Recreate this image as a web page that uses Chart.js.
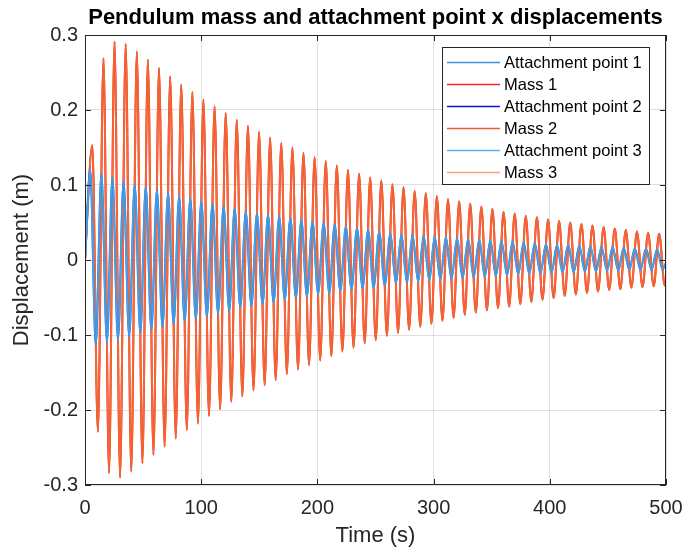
<!DOCTYPE html>
<html>
<head>
<meta charset="utf-8">
<script src="https://cdn.jsdelivr.net/npm/chart.js@4.4.1/dist/chart.umd.min.js"></script>
<style>
  html, body { margin: 0; padding: 0; background: #fff; }
  #wrap { width: 696px; height: 549px; }
</style>
</head>
<body>
<div id="wrap"><canvas id="chart"></canvas></div>
<script>
// Ticks
const xTicks = [0, 100, 200, 300, 400, 500];
const yTicks = [-0.3, -0.2, -0.1, 0, 0.1, 0.2, 0.3];

// Series labels (three identical pendulums)
const seriesLabels = ['Attachment point 1', 'Mass 1', 'Attachment point 2', 'Mass 2', 'Attachment point 3', 'Mass 3'];

// Mass displacement extrema (s, m)
const massPeakTime = [6.3, 15.9, 25.4, 35.0, 44.6, 54.1, 63.7, 73.3, 82.8, 92.4, 101.9, 111.5, 121.1, 130.6, 140.2, 149.8, 159.3, 168.9, 178.5, 188.0, 197.6, 207.2, 216.7, 226.3, 235.9, 245.4, 255.0, 264.6, 274.1, 283.7, 293.3, 302.8, 312.4, 322.0, 331.5, 341.1, 350.6, 360.2, 369.8, 379.3, 388.9, 398.5, 408.0, 417.6, 427.2, 436.7, 446.3, 455.9, 465.4, 475.0, 484.6, 494.1];
const massPeak = [0.153, 0.269, 0.291, 0.288, 0.278, 0.267, 0.256, 0.245, 0.234, 0.224, 0.214, 0.205, 0.196, 0.187, 0.179, 0.171, 0.163, 0.156, 0.150, 0.143, 0.137, 0.132, 0.126, 0.120, 0.115, 0.110, 0.106, 0.101, 0.097, 0.092, 0.089, 0.085, 0.081, 0.078, 0.075, 0.071, 0.068, 0.064, 0.062, 0.059, 0.057, 0.054, 0.052, 0.050, 0.048, 0.046, 0.044, 0.042, 0.040, 0.038, 0.036, 0.035];
const massTroughTime = [11.1, 20.7, 30.2, 39.8, 49.4, 58.9, 68.5, 78.1, 87.6, 97.2, 106.7, 116.3, 125.9, 135.4, 145.0, 154.6, 164.1, 173.7, 183.3, 192.8, 202.4, 212.0, 221.5, 231.1, 240.7, 250.2, 259.8, 269.4, 278.9, 288.5, 298.1, 307.6, 317.2, 326.8, 336.3, 345.9, 355.4, 365.0, 374.6, 384.1, 393.7, 403.3, 412.8, 422.4, 432.0, 441.5, 451.1, 460.7, 470.2, 479.8, 489.4, 498.9];
const massTrough = [-0.229, -0.284, -0.290, -0.282, -0.271, -0.260, -0.249, -0.238, -0.227, -0.218, -0.208, -0.199, -0.189, -0.182, -0.174, -0.167, -0.160, -0.152, -0.146, -0.140, -0.134, -0.128, -0.122, -0.117, -0.111, -0.107, -0.101, -0.097, -0.093, -0.089, -0.085, -0.081, -0.077, -0.073, -0.070, -0.067, -0.064, -0.062, -0.059, -0.056, -0.053, -0.051, -0.048, -0.046, -0.044, -0.042, -0.040, -0.039, -0.037, -0.036, -0.035, -0.034];
const massEnd = [500, -0.033];

// Attachment point displacement extrema
const attachPeakTime = [4.5, 14.1, 23.6, 33.2, 42.8, 52.3, 61.9, 71.5, 81.0, 90.6, 100.1, 109.7, 119.3, 128.8, 138.4, 148.0, 157.5, 167.1, 176.7, 186.2, 195.8, 205.4, 214.9, 224.5, 234.1, 243.6, 253.2, 262.8, 272.3, 281.9, 291.5, 301.0, 310.6, 320.2, 329.7, 339.3, 348.8, 358.4, 368.0, 377.5, 387.1, 396.7, 406.2, 415.8, 425.4, 434.9, 444.5, 454.1, 463.6, 473.2, 482.8, 492.3];
const attachPeak = [0.120, 0.115, 0.110, 0.105, 0.100, 0.097, 0.093, 0.089, 0.085, 0.082, 0.078, 0.075, 0.071, 0.068, 0.064, 0.062, 0.060, 0.058, 0.056, 0.053, 0.051, 0.049, 0.047, 0.044, 0.042, 0.040, 0.037, 0.035, 0.034, 0.033, 0.032, 0.031, 0.030, 0.029, 0.028, 0.027, 0.026, 0.025, 0.024, 0.023, 0.022, 0.021, 0.020, 0.020, 0.019, 0.018, 0.017, 0.017, 0.016, 0.015, 0.015, 0.014];
const attachTroughTime = [9.3, 18.9, 28.4, 38.0, 47.6, 57.1, 66.7, 76.3, 85.8, 95.4, 104.9, 114.5, 124.1, 133.6, 143.2, 152.8, 162.3, 171.9, 181.5, 191.0, 200.6, 210.2, 219.7, 229.3, 238.9, 248.4, 258.0, 267.6, 277.1, 286.7, 296.3, 305.8, 315.4, 325.0, 334.5, 344.1, 353.6, 363.2, 372.8, 382.3, 391.9, 401.5, 411.0, 420.6, 430.2, 439.7, 449.3, 458.9, 468.4, 478.0, 487.6, 497.1];
const attachTrough = [-0.113, -0.109, -0.106, -0.102, -0.098, -0.093, -0.089, -0.085, -0.081, -0.078, -0.075, -0.071, -0.068, -0.063, -0.061, -0.059, -0.056, -0.053, -0.050, -0.048, -0.045, -0.044, -0.041, -0.039, -0.037, -0.036, -0.033, -0.031, -0.030, -0.029, -0.027, -0.026, -0.025, -0.024, -0.023, -0.022, -0.021, -0.020, -0.019, -0.018, -0.018, -0.017, -0.016, -0.016, -0.015, -0.015, -0.014, -0.014, -0.013, -0.013, -0.013, -0.012];
const attachEnd = [500, -0.004];

// Merge peaks and troughs into one time-ordered list of points
function buildSeries(peakT, peakY, troughT, troughY, end) {
    const pts = [{ x: 0, y: 0 }];
    for (let i = 0; i < peakT.length; i++) {
        pts.push({ x: peakT[i], y: peakY[i] });
        pts.push({ x: troughT[i], y: troughY[i] });
    }
    pts.push({ x: end[0], y: end[1] });
    return pts;
}

const massData = buildSeries(massPeakTime, massPeak, massTroughTime, massTrough, massEnd);
const attachData = buildSeries(attachPeakTime, attachPeak, attachTroughTime, attachTrough, attachEnd);

const lineColors = ['#3c94de', '#ee4526', '#3a8ee0', '#f25a2c', 'rgba(90,175,240,0.6)', 'rgba(255,150,115,0.3)'];
const legendColors = ['#3d92d8', '#f0282a', '#1010ee', '#e8602e', '#5cb2f2', '#ffa07a'];
const lineWidths = [2, 2, 2, 2, 1.2, 1.2];
// draw order: masses underneath, attachment points on top (lower order = drawn later)
const drawOrder = [2, 5, 1, 4, 0, 3];

const datasets = seriesLabels.map((label, i) => ({
    label: label,
    data: i % 2 === 0 ? attachData : massData,
    borderColor: lineColors[i],
    borderWidth: lineWidths[i],
    pointRadius: 0,
    fill: false,
    cubicInterpolationMode: 'monotone',
    order: drawOrder[i]
}));

// MATLAB style box with inward ticks
const matlabBox = {
    id: 'matlabBox',
    afterDatasetsDraw(chart) {
        const { ctx, chartArea: a, scales: { x, y } } = chart;
        ctx.save();
        ctx.strokeStyle = '#262626';
        ctx.lineWidth = 1;
        ctx.strokeRect(a.left + 0.5, a.top + 0.5, a.right - a.left - 1, a.bottom - a.top - 1);
        ctx.beginPath();
        xTicks.forEach(v => {
            const px = Math.round(x.getPixelForValue(v)) + 0.5;
            ctx.moveTo(px, a.bottom); ctx.lineTo(px, a.bottom - 6);
            ctx.moveTo(px, a.top); ctx.lineTo(px, a.top + 6);
        });
        yTicks.forEach(v => {
            const py = Math.round(y.getPixelForValue(v)) + 0.5;
            ctx.moveTo(a.left, py); ctx.lineTo(a.left + 6, py);
            ctx.moveTo(a.right, py); ctx.lineTo(a.right - 6, py);
        });
        ctx.stroke();
        ctx.restore();
    }
};

// Legend box in the upper right of the axes
const boxLegend = {
    id: 'boxLegend',
    afterDraw(chart) {
        const { ctx, chartArea: a } = chart;
        const w = 207, h = 137;
        const left = Math.round(a.right - 17 - w), top = Math.round(a.top + 12);
        ctx.save();
        ctx.fillStyle = '#fff';
        ctx.fillRect(left, top, w, h);
        ctx.strokeStyle = '#262626';
        ctx.lineWidth = 1;
        ctx.strokeRect(left + 0.5, top + 0.5, w, h);
        ctx.font = '16.5px "Liberation Sans", Arial, sans-serif';
        ctx.textBaseline = 'middle';
        chart.data.datasets.forEach((ds, i) => {
            const yy = Math.round(top + 15 + i * 22) + 0.5;
            ctx.strokeStyle = legendColors[i];
            ctx.lineWidth = 1.5;
            ctx.beginPath();
            ctx.moveTo(left + 5, yy); ctx.lineTo(left + 58, yy);
            ctx.stroke();
            ctx.fillStyle = '#000';
            ctx.fillText(ds.label, left + 62, yy + 1);
        });
        ctx.restore();
    }
};

const fontFamily = '"Liberation Sans", Arial, sans-serif';

new Chart(document.getElementById('chart'), {
    type: 'line',
    data: { datasets: datasets },
    plugins: [matlabBox, boxLegend],
    options: {
        responsive: true,
        maintainAspectRatio: false,
        animation: false,
        parsing: false,
        layout: { padding: { left: 0, right: 30, top: 0, bottom: 0 } },
        plugins: {
            legend: { display: false },
            tooltip: { enabled: false },
            title: {
                display: true,
                fullSize: false,
                text: 'Pendulum mass and attachment point x displacements',
                color: '#000',
                font: { family: fontFamily, size: 22, weight: 'bold' },
                padding: { top: 5, bottom: 3.6 }
            }
        },
        scales: {
            x: {
                type: 'linear',
                min: 0,
                max: 500,
                afterBuildTicks: scale => { scale.ticks = xTicks.map(v => ({ value: v })); },
                afterFit: scale => { scale.height = 64; },
                grid: { color: 'rgba(38,38,38,0.15)', drawTicks: false },
                border: { display: false },
                ticks: {
                    color: '#262626',
                    padding: 11,
                    maxRotation: 0,
                    font: { family: fontFamily, size: 20 }
                },
                title: {
                    display: true,
                    text: 'Time (s)',
                    color: '#262626',
                    padding: { top: 0, bottom: 0 },
                    font: { family: fontFamily, size: 22 }
                }
            },
            y: {
                type: 'linear',
                min: -0.3,
                max: 0.3,
                afterBuildTicks: scale => { scale.ticks = yTicks.map(v => ({ value: v })); },
                afterFit: scale => { scale.width = 85; },
                grid: { color: 'rgba(38,38,38,0.15)', drawTicks: false },
                border: { display: false },
                ticks: {
                    color: '#262626',
                    padding: 7,
                    font: { family: fontFamily, size: 20 },
                    callback: v => (v === 0 ? '0' : v.toFixed(1))
                },
                title: {
                    display: true,
                    text: 'Displacement (m)',
                    color: '#262626',
                    padding: { top: 9, bottom: 0 },
                    font: { family: fontFamily, size: 22 }
                }
            }
        }
    }
});
</script>
</body>
</html>
